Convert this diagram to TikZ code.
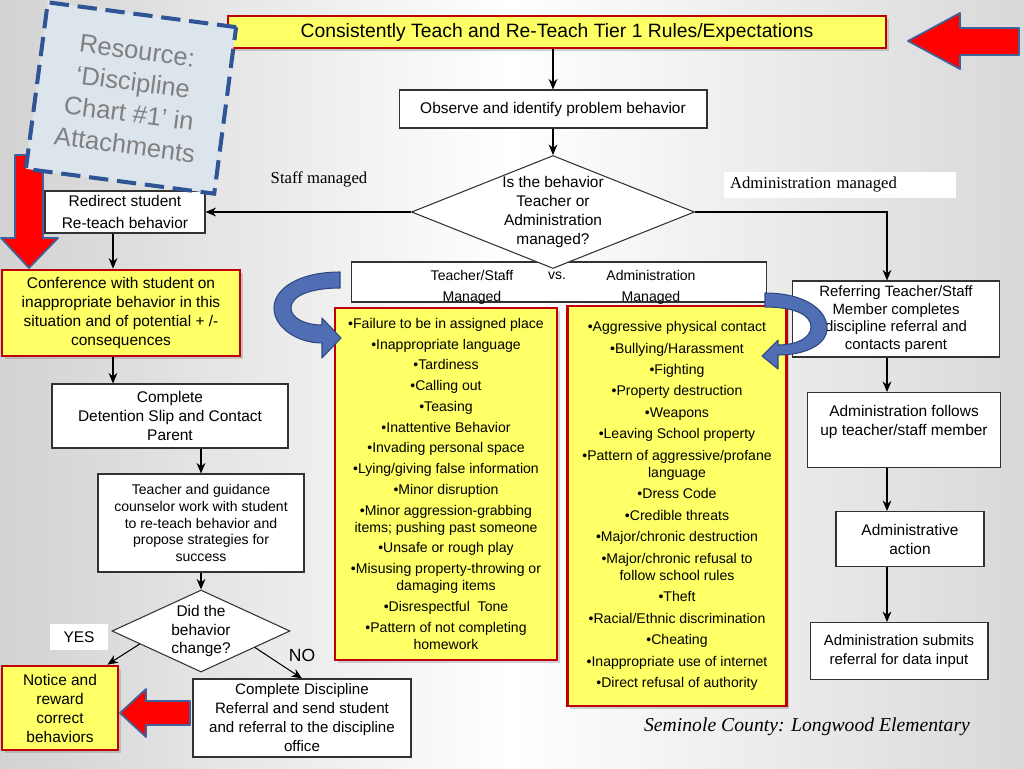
\documentclass[tikz,border=0pt]{standalone}
\usepackage{fontspec}
\setmainfont{Liberation Sans}
\newfontfamily\timesfont{Liberation Serif}
\usetikzlibrary{arrows.meta,shapes.geometric,shadows}
\definecolor{boxyellow}{RGB}{255,255,102}
\definecolor{boxred}{RGB}{192,0,0}
\definecolor{arrowred}{RGB}{255,0,0}
\definecolor{arrowrim}{RGB}{65,97,154}
\definecolor{curveblue}{RGB}{79,110,180}
\definecolor{curverim}{RGB}{47,72,130}
\definecolor{resfill}{RGB}{220,228,236}
\definecolor{resrim}{RGB}{47,85,151}
\definecolor{linegray}{RGB}{50,50,50}
\begin{document}
\begin{tikzpicture}[x=0.02cm,y=-0.02cm,
    plain/.style={draw=linegray,line width=0.6pt,fill=white,align=center,inner sep=1pt,font=\fontsize{8.8}{10.8}\selectfont},
    alert/.style={draw=boxred,line width=1.6pt,fill=boxyellow,align=center,inner sep=1pt,drop shadow={opacity=0.35,shadow xshift=1.5pt,shadow yshift=-1.5pt},font=\fontsize{8.8}{10.8}\selectfont},
    choice/.style={diamond,draw=linegray,line width=0.6pt,fill=white,align=center,inner sep=0pt,font=\fontsize{8.8}{10.8}\selectfont},
    listbox/.style={alert,font=\fontsize{8}{9.8}\selectfont},
    serifnote/.style={font=\timesfont\fontsize{9.5}{11}\selectfont},
    arr/.style={-{Stealth[length=6pt,width=5pt]},line width=0.6pt},
    bigarrow/.style={fill=arrowred,draw=arrowrim,line width=1pt,line join=round},
    curl/.style={fill=curveblue,draw=curverim,line width=0.6pt,line join=round}]
    \shade[left color=gray!35,right color=gray!30,middle color=white] (0,0) rectangle (1024,768);
    \useasboundingbox (0,0) rectangle (1024,768);
    \draw[bigarrow] (908,41) -- (960,13) -- (960,28) -- (1019,28) -- (1019,55) -- (960,55) -- (960,69) -- cycle;
    \draw[bigarrow] (15,155) -- (43,155) -- (43,238) -- (58,238) -- (29,268) -- (1,238) -- (15,238) -- cycle;
    \draw[bigarrow] (120,713) -- (146,689) -- (146,701) -- (190,701) -- (190,725) -- (146,725) -- (146,737) -- cycle;
    \node[alert,minimum width=13.16cm,minimum height=0.64cm,font=\fontsize{11}{13}\selectfont] (rules) at (557,32) {Consistently Teach and Re-Teach Tier 1 Rules/Expectations};
    \node[plain,minimum width=6.16cm,minimum height=0.76cm] (observe) at (553,109) {Observe and identify problem behavior};
    \node[plain,minimum width=8.32cm,minimum height=0.8cm] (versus) at (559,282) {};
    \node[font=\fontsize{8}{12}\selectfont,align=center] (tslab) at (472,287) {Teacher/Staff\\Managed};
    \node[font=\fontsize{8}{12}\selectfont] (vslab) at (557,276) {vs.};
    \node[font=\fontsize{8}{12}\selectfont,align=center] (adlab) at (651,287) {Administration\\Managed};
    \node[choice,aspect=2.5,minimum width=5.66cm,minimum height=2.26cm] (decide) at (553,212) {Is the behavior\\Teacher or\\Administration\\managed?};
    \node[plain,minimum width=3.2cm,minimum height=0.84cm] (redirect) at (125,212) {Redirect student\\[2pt]Re-teach behavior};
    \node[serifnote] (stafflab) at (319,179) {Staff managed};
    \node[serifnote,fill=white,minimum width=4.6cm,minimum height=0.52cm,text width=4.4cm,align=left] (adminlab) at (840,185) {Administration managed};
    \node[plain,minimum width=4.14cm,minimum height=1.52cm,font=\fontsize{8.5}{10}\selectfont] (referring) at (896,319) {Referring Teacher/Staff\\Member completes\\discipline referral and\\contacts parent};
    \node[alert,minimum width=4.76cm,minimum height=1.72cm] (conference) at (121,313) {Conference with student on\\inappropriate behavior in this\\situation and of potential + /-\\consequences};
    \node[plain,minimum width=4.72cm,minimum height=1.28cm] (detention) at (170,416) {Complete\\Detention Slip and Contact\\Parent};
    \node[plain,minimum width=4.12cm,minimum height=1.96cm,font=\fontsize{8}{9.6}\selectfont] (guidance) at (201,523) {Teacher and guidance\\counselor work with student\\to re-teach behavior and\\propose strategies for\\success};
    \node[choice,aspect=2.17,minimum width=3.56cm,minimum height=1.64cm] (change) at (201,631) {Did the\\behavior\\change?};
    \node[fill=white,minimum width=1.16cm,minimum height=0.52cm,font=\fontsize{8.8}{10.8}\selectfont] (yes) at (79,637) {YES};
    \node[font=\fontsize{10}{12}\selectfont] (no) at (302,655) {NO};
    \node[alert,minimum width=2.32cm,minimum height=1.68cm] (notice) at (60,708) {Notice and\\reward\\correct\\behaviors};
    \node[plain,minimum width=4.36cm,minimum height=1.56cm,font=\fontsize{8.6}{10.8}\selectfont] (discipline) at (302,718) {Complete Discipline\\Referral and send student\\and referral to the discipline\\office};
    \node[listbox,minimum width=4.44cm,minimum height=7.04cm] (stafflist) at (446,484) {\textbullet Failure to be in assigned place\\[2pt]\textbullet Inappropriate language\\[2pt]\textbullet Tardiness\\[2pt]\textbullet Calling out\\[2pt]\textbullet Teasing\\[2pt]\textbullet Inattentive Behavior\\[2pt]\textbullet Invading personal space\\[2pt]\textbullet Lying/giving false information\\[2pt]\textbullet Minor disruption\\[2pt]\textbullet Minor aggression-grabbing\\items; pushing past someone\\[2pt]\textbullet Unsafe or rough play\\[2pt]\textbullet Misusing property-throwing or\\damaging items\\[2pt]\textbullet Disrespectful\ \ Tone\\[2pt]\textbullet Pattern of not completing\\homework};
    \node[listbox,minimum width=4.38cm,minimum height=8cm] (adminlist) at (677,506) {\textbullet Aggressive physical contact\\[2.4pt]\textbullet Bullying/Harassment\\[2.4pt]\textbullet Fighting\\[2.4pt]\textbullet Property destruction\\[2.4pt]\textbullet Weapons\\[2.4pt]\textbullet Leaving School property\\[2.4pt]\textbullet Pattern of aggressive/profane\\language\\[2.4pt]\textbullet Dress Code\\[2.4pt]\textbullet Credible threats\\[2.4pt]\textbullet Major/chronic destruction\\[2.4pt]\textbullet Major/chronic refusal to\\follow school rules\\[2.4pt]\textbullet Theft\\[2.4pt]\textbullet Racial/Ethnic discrimination\\[2.4pt]\textbullet Cheating\\[2.4pt]\textbullet Inappropriate use of internet\\[2.4pt]\textbullet Direct refusal of authority};
    \node[plain,minimum width=3.86cm,minimum height=1.5cm] (follows) at (904,430) {Administration follows\\up teacher/staff member\\~};
    \node[plain,minimum width=2.96cm,minimum height=1.1cm] (action) at (910,539) {Administrative\\action};
    \node[plain,minimum width=3.56cm,minimum height=1.14cm,font=\fontsize{8.5}{10.5}\selectfont] (submits) at (899,651) {Administration submits\\referral for data input};
    \node[font=\timesfont\itshape\fontsize{11.2}{13}\selectfont] (caption) at (807,727) {Seminole County: Longwood Elementary};
    \node[draw=resrim,line width=2.3pt,dash pattern=on 11pt off 5pt,fill=resfill,minimum width=3.8cm,minimum height=3.36cm,rotate=-7.5,text=gray,font=\fontsize{14.5}{18}\selectfont,align=center] (resource) at (131,98) {Resource:\\‘Discipline\\Chart \#1’ in\\Attachments};
    \coordinate (staffcol) at (113,0);
    \coordinate (adcol) at (887,0);
    \draw[arr] (rules.south -| observe.north) -- (observe.north);
    \draw[arr] (observe.south) -- (decide.north);
    \draw[arr] (decide.west) -- (redirect.east);
    \draw[arr] (decide.east) -| (referring.north -| adcol);
    \draw[arr] (redirect.south -| staffcol) -- (conference.north -| staffcol);
    \draw[arr] (conference.south -| staffcol) -- (detention.north -| staffcol);
    \draw[arr] (detention.south -| guidance.north) -- (guidance.north);
    \draw[arr] (guidance.south) -- (change.north);
    \draw[arr] (change.192) -- ([xshift=-0.24cm]notice.north east);
    \draw[arr] (change.343) -- (discipline.north);
    \draw[arr] (referring.south -| adcol) -- (follows.north -| adcol);
    \draw[arr] (follows.south -| adcol) -- (action.north -| adcol);
    \draw[arr] (action.south -| adcol) -- (submits.north -| adcol);
    \draw[curl] (340,272) .. controls (300,272) and (274,288) .. (274,308) .. controls (274,328) and (298,343) .. (322,343) -- (322,358) -- (341,338) -- (322,318) -- (322,325) .. controls (305,325) and (291,318) .. (291,308) .. controls (291,296) and (310,288) .. (340,288) -- cycle;
    \draw[curl] (765,293) .. controls (805,293) and (827,310) .. (827,328) .. controls (827,345) and (805,355) .. (778,355) -- (778,369) -- (762,356) -- (778,340) -- (778,345) .. controls (798,345) and (811,337) .. (811,327) .. controls (811,315) and (795,307) .. (765,307) -- cycle;
\end{tikzpicture}
\end{document}
